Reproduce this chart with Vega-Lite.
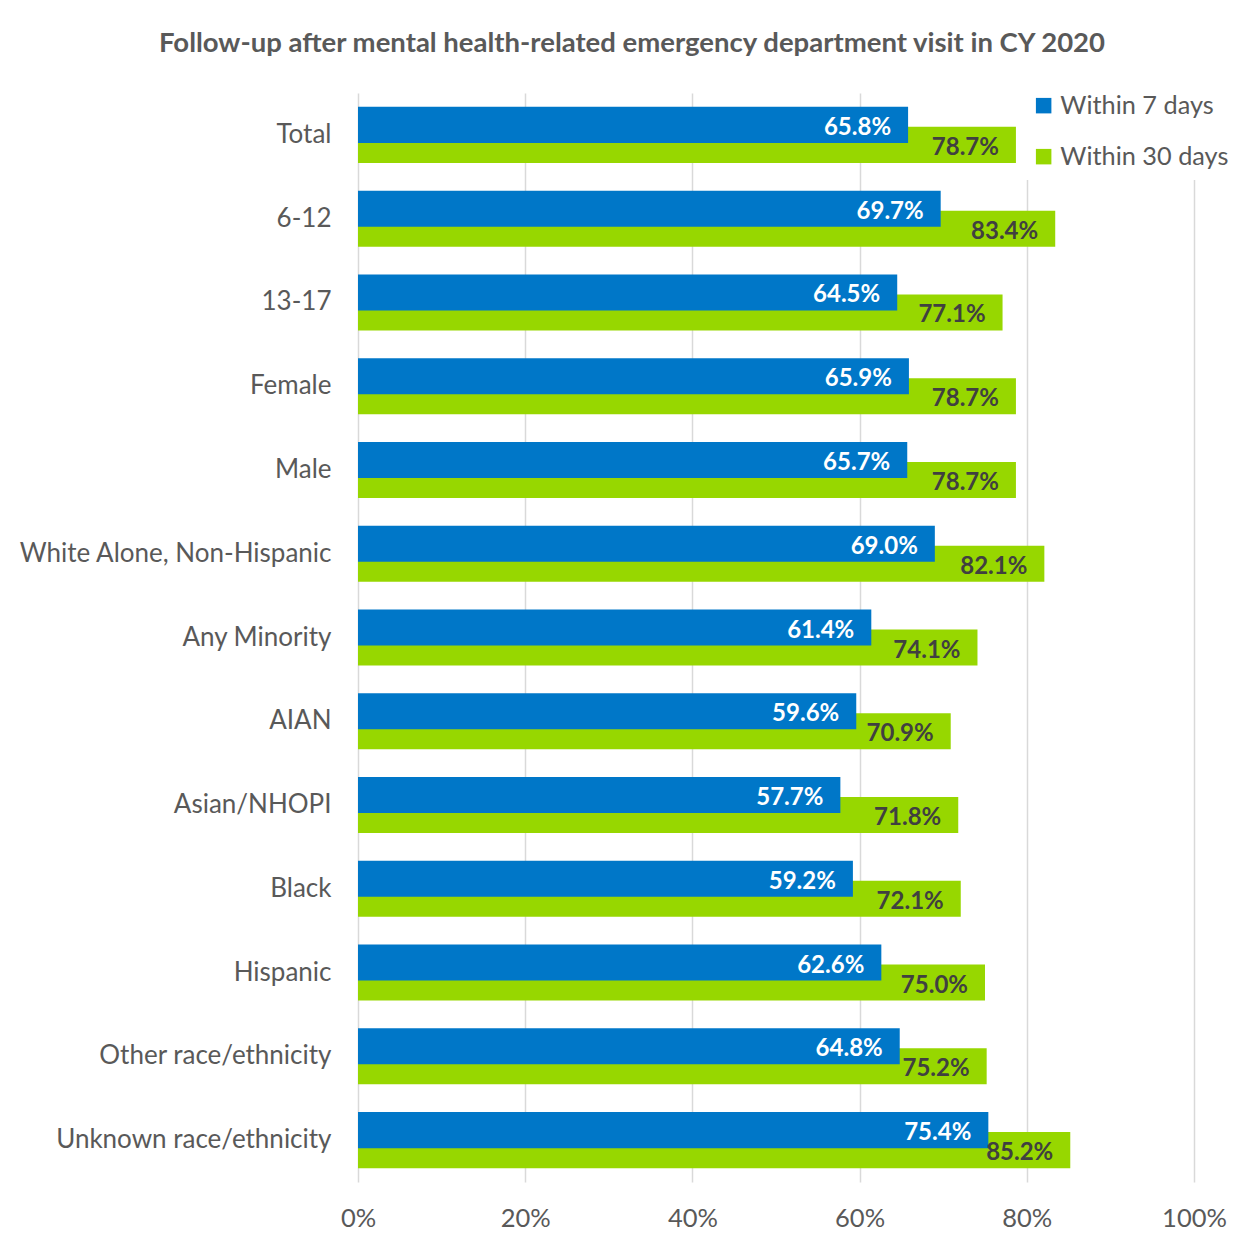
{
  "$schema": "https://vega.github.io/schema/vega-lite/v6.json",
  "width": 836,
  "height": 1089,
  "autosize": {"type": "none"},
  "padding": {"left": 358, "top": 93, "right": 58, "bottom": 65},
  "background": "white",
  "config": {
    "view": {"stroke": null},
    "font": "Lato"
  },
  "title": {
    "text": "Follow-up after mental health-related emergency department visit in CY 2020",
    "font": "Lato",
    "fontSize": 27.5,
    "fontWeight": "bold",
    "color": "#595959",
    "anchor": "middle",
    "dx": -144,
    "offset": 26
  },
  "data": {
    "values": [
      {"category": "Total", "series": "Within 7 days", "value": 0.658},
      {"category": "Total", "series": "Within 30 days", "value": 0.787},
      {"category": "6-12", "series": "Within 7 days", "value": 0.697},
      {"category": "6-12", "series": "Within 30 days", "value": 0.834},
      {"category": "13-17", "series": "Within 7 days", "value": 0.645},
      {"category": "13-17", "series": "Within 30 days", "value": 0.771},
      {"category": "Female", "series": "Within 7 days", "value": 0.659},
      {"category": "Female", "series": "Within 30 days", "value": 0.787},
      {"category": "Male", "series": "Within 7 days", "value": 0.657},
      {"category": "Male", "series": "Within 30 days", "value": 0.787},
      {"category": "White Alone, Non-Hispanic", "series": "Within 7 days", "value": 0.690},
      {"category": "White Alone, Non-Hispanic", "series": "Within 30 days", "value": 0.821},
      {"category": "Any Minority", "series": "Within 7 days", "value": 0.614},
      {"category": "Any Minority", "series": "Within 30 days", "value": 0.741},
      {"category": "AIAN", "series": "Within 7 days", "value": 0.596},
      {"category": "AIAN", "series": "Within 30 days", "value": 0.709},
      {"category": "Asian/NHOPI", "series": "Within 7 days", "value": 0.577},
      {"category": "Asian/NHOPI", "series": "Within 30 days", "value": 0.718},
      {"category": "Black", "series": "Within 7 days", "value": 0.592},
      {"category": "Black", "series": "Within 30 days", "value": 0.721},
      {"category": "Hispanic", "series": "Within 7 days", "value": 0.626},
      {"category": "Hispanic", "series": "Within 30 days", "value": 0.750},
      {"category": "Other race/ethnicity", "series": "Within 7 days", "value": 0.648},
      {"category": "Other race/ethnicity", "series": "Within 30 days", "value": 0.752},
      {"category": "Unknown race/ethnicity", "series": "Within 7 days", "value": 0.754},
      {"category": "Unknown race/ethnicity", "series": "Within 30 days", "value": 0.852}
    ]
  },
  "encoding": {
    "y": {
      "field": "category",
      "type": "nominal",
      "sort": null,
      "scale": {"paddingInner": 0, "paddingOuter": 0},
      "axis": {
        "title": null,
        "domain": false,
        "ticks": false,
        "grid": false,
        "labelPadding": 27,
        "labelFontSize": 26,
        "labelLimit": 0,
        "labelColor": "#595959",
        "labelFont": "Lato"
      }
    },
    "x": {
      "field": "value",
      "type": "quantitative",
      "scale": {"domain": [0, 1], "nice": false},
      "axis": {
        "title": null,
        "domain": false,
        "ticks": false,
        "grid": true,
        "gridColor": "#D9D9D9",
        "gridWidth": 1.5,
        "values": [0, 0.2, 0.4, 0.6, 0.8, 1],
        "format": ".0%",
        "labelFlush": false,
        "labelPadding": 24,
        "labelFontSize": 25.5,
        "labelColor": "#595959",
        "labelFont": "Lato"
      }
    }
  },
  "layer": [
    {
      "transform": [{"filter": "datum.series === 'Within 30 days'"}],
      "mark": {"type": "bar", "height": {"band": 0.43}, "yOffset": 10},
      "encoding": {
        "color": {
          "field": "series",
          "type": "nominal",
          "scale": {"domain": ["Within 7 days", "Within 30 days"], "range": ["#0077C8", "#97D700"]},
          "legend": {
            "title": null,
            "orient": "none",
            "legendX": 663,
            "legendY": -10,
            "fillColor": "white",
            "symbolType": "square",
            "symbolSize": 240,
            "symbolStrokeWidth": 0,
            "labelFontSize": 25.3,
            "labelLimit": 0,
            "labelColor": "#595959",
            "labelFont": "Lato",
            "labelOffset": 4,
            "rowPadding": 25,
            "padding": 10
          }
        }
      }
    },
    {
      "transform": [{"filter": "datum.series === 'Within 7 days'"}],
      "mark": {"type": "bar", "height": {"band": 0.43}, "yOffset": -10},
      "encoding": {
        "color": {"field": "series", "type": "nominal"}
      }
    },
    {
      "transform": [{"filter": "datum.series === 'Within 7 days'"}],
      "mark": {"type": "text", "align": "right", "baseline": "middle", "dx": -17, "yOffset": -7, "font": "Lato", "fontWeight": "bold", "fontSize": 24, "color": "white"},
      "encoding": {
        "text": {"field": "value", "type": "quantitative", "format": ".1%"}
      }
    },
    {
      "transform": [{"filter": "datum.series === 'Within 30 days'"}],
      "mark": {"type": "text", "align": "right", "baseline": "middle", "dx": -17, "yOffset": 13, "font": "Lato", "fontWeight": "bold", "fontSize": 24, "color": "#404040"},
      "encoding": {
        "text": {"field": "value", "type": "quantitative", "format": ".1%"}
      }
    }
  ]
}
